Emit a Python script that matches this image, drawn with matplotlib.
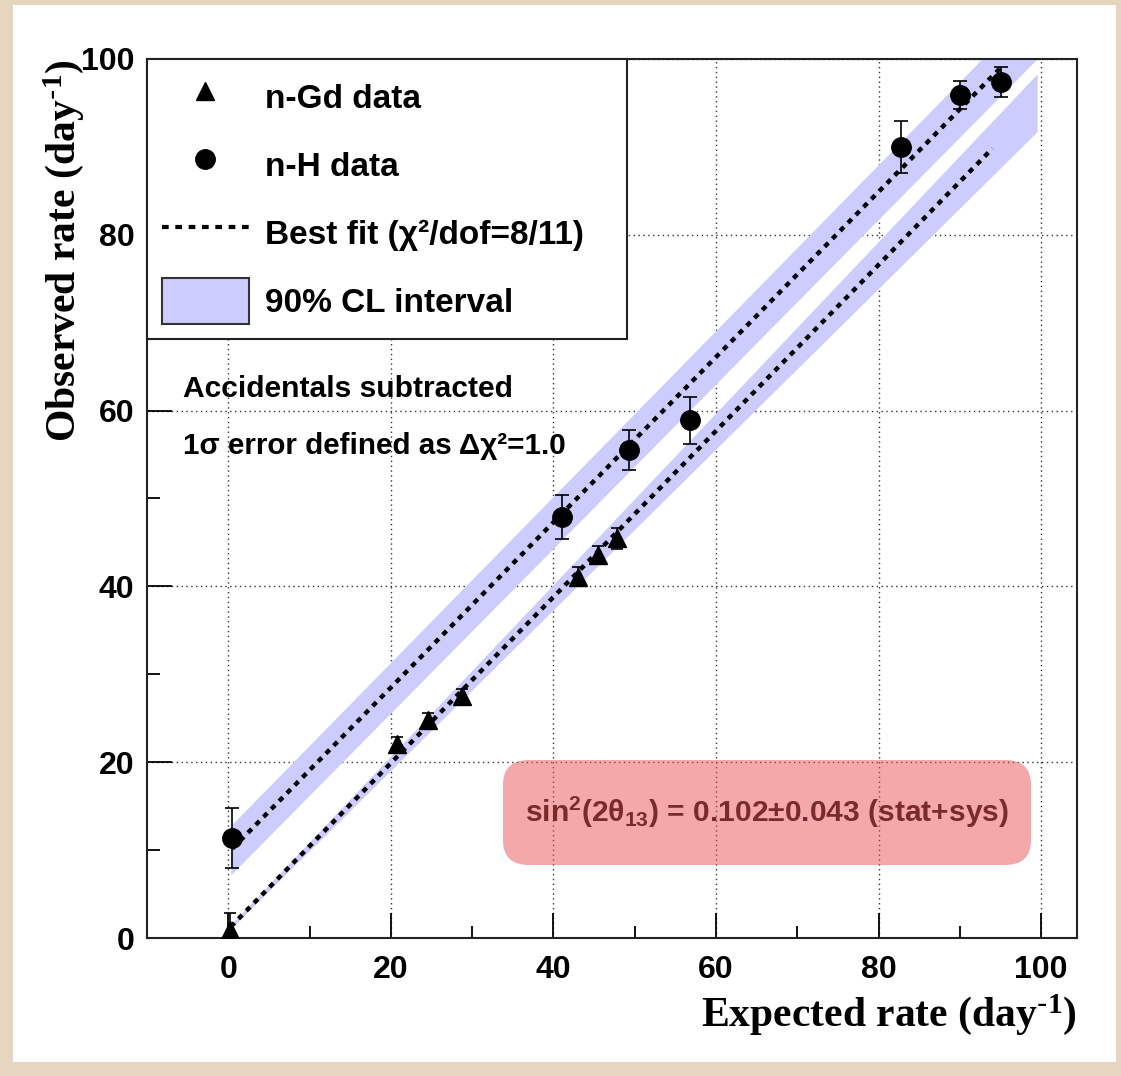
import matplotlib
matplotlib.use("Agg")
import matplotlib.pyplot as plt
from matplotlib.lines import Line2D
from matplotlib.patches import Patch, Rectangle, FancyBboxPatch
import numpy as np

# ---------------- data ----------------
gd_expected = [0.2, 20.7, 24.6, 28.7, 43.0, 45.5, 47.8]
gd_observed = [0.9, 22.1, 24.8, 27.5, 41.1, 43.6, 45.5]
gd_err = [2.0, 0.8, 0.8, 0.8, 1.1, 1.0, 1.2]

h_expected = [0.4, 41.0, 49.3, 56.8, 82.8, 90.0, 95.0]
h_observed = [11.4, 47.9, 55.5, 58.9, 90.0, 95.9, 97.4]
h_err = [3.4, 2.5, 2.3, 2.7, 3.0, 1.6, 1.7]

# best-fit lines: observed = slope * expected + offset
gd_fit_slope, gd_fit_offset = 0.945, 1.0
h_fit_slope, h_fit_offset = 0.94, 9.7
gd_fit_range = [0.3, 94.0]
h_fit_range = [0.5, 95.0]

# 90% CL bands: half width = const + frac * expected
gd_band_const, gd_band_frac = 0.2, 0.031
h_band_const, h_band_frac = 2.8, 0.004
gd_band_range = [0.3, 99.5]
h_band_range = [0.3, 104.0]

x_ticks = [0, 20, 40, 60, 80, 100]
y_ticks = [0, 20, 40, 60, 80, 100]

# ---------------- figure ----------------
W, H = 1121, 1076
fig = plt.figure(figsize=(W / 100, H / 100), dpi=100)
fig.patch.set_facecolor("#e6d6bf")
fig.patches.append(Rectangle((13 / W, 1 - 1062 / H), (1116 - 13) / W, (1062 - 5) / H,
                             transform=fig.transFigure, facecolor="white",
                             edgecolor="none", zorder=-10))

ax = fig.add_axes([147 / W, 1 - 938 / H, (1077 - 147) / W, (938 - 59) / H])
ax.set_zorder(1)
ax.set_xlim(-10, 104.4)
ax.set_ylim(0, 100)

band_color = "#ccccff"

def band(slope, offset, c, f, xr):
    x = np.linspace(xr[0], xr[1], 200)
    y = slope * x + offset
    hw = c + f * x
    ax.fill_between(x, y - hw, y + hw, color=band_color, lw=0, zorder=1)

band(h_fit_slope, h_fit_offset, h_band_const, h_band_frac, h_band_range)
band(gd_fit_slope, gd_fit_offset, gd_band_const, gd_band_frac, gd_band_range)

fit_ls = (0, (1.2, 1.3))
for s, o, xr in [(h_fit_slope, h_fit_offset, h_fit_range),
                 (gd_fit_slope, gd_fit_offset, gd_fit_range)]:
    xs = np.array(xr)
    ax.plot(xs, s * xs + o, color="black", lw=3.2, ls=fit_ls, zorder=2)

ax.errorbar(gd_expected, gd_observed, yerr=gd_err, fmt="^", color="black",
            ms=13, capsize=4, elinewidth=1.2, capthick=1.2, zorder=3, clip_on=True)
ax.errorbar(h_expected, h_observed, yerr=h_err, fmt="o", color="black",
            ms=14, capsize=5, elinewidth=1.2, capthick=1.2, zorder=3)

# grid
ax.set_axisbelow(True)
ax.set_xticks(x_ticks)
ax.set_yticks(y_ticks)
ax.set_xticks(np.arange(-10, 105, 10), minor=True)
ax.set_yticks(np.arange(0, 101, 10), minor=True)
ax.grid(True, which="major", color="#333333", lw=1.0, ls=(0, (1, 2.5)))
ax.tick_params(which="major", direction="in", length=18, width=1.3,
               top=False, right=False, pad=12, labelsize=23)
ax.tick_params(axis="y", which="major", pad=9)
ax.tick_params(which="minor", direction="in", length=9, width=1.3,
               top=False, right=False)
for lab in ax.get_xticklabels() + ax.get_yticklabels():
    lab.set_fontfamily("Liberation Sans")
    lab.set_fontweight("bold")
for sp in ax.spines.values():
    sp.set_linewidth(1.5)
    sp.set_color("#222222")

sup = "$\\mathregular{^{\\text{-}1}}$"
ax.set_xlabel("Expected rate (day" + sup + ")", loc="right",
              fontfamily="Liberation Serif", fontweight="bold", fontsize=30)
ax.xaxis.set_label_coords(1.0, -0.062)
ax.set_ylabel("Observed rate (day" + sup + ")", loc="top",
              fontfamily="Liberation Serif", fontweight="bold", fontsize=30)
ax.yaxis.set_label_coords(-0.066, 1.0)

# annotations
ax.text(0.039, 0.625, "Accidentals subtracted", transform=ax.transAxes,
        fontfamily="Liberation Sans", fontweight="bold", fontsize=21.6,
        va="center", ha="left", zorder=4)
ax.text(0.039, 0.560, "1σ error defined as Δχ²=1.0", transform=ax.transAxes,
        fontfamily="Liberation Sans", fontweight="bold", fontsize=21.3,
        va="center", ha="left", zorder=4)

x0, x1 = (503 - 147) / 930, (1031 - 147) / 930
y0, y1 = (938 - 865) / 879, (938 - 760) / 879
box = FancyBboxPatch((x0, y0), x1 - x0, y1 - y0,
                     boxstyle="round,pad=0,rounding_size=0.028",
                     transform=ax.transAxes, facecolor=(0.91, 0.33, 0.33, 0.5),
                     edgecolor="none", zorder=4)
ax.add_patch(box)
ax.text((x0 + x1) / 2, (y0 + y1) / 2,
        "sin$\\mathregular{^2}$(2θ$\\mathregular{_{13}}$) = 0.102±0.043 (stat+sys)",
        transform=ax.transAxes, color="#7a2a2a", fontfamily="Liberation Sans",
        fontweight="bold", fontsize=21.6, ha="center", va="center", zorder=5)

# legend
handles = [
    Line2D([], [], marker="^", color="black", ls="none", ms=13),
    Line2D([], [], marker="o", color="black", ls="none", ms=14),
    Line2D([], [], color="black", lw=3, ls=(0, (1.6, 1.6))),
    Patch(facecolor=band_color, edgecolor="#333333", lw=1.5),
]
labels = ["n-Gd data", "n-H data", "Best fit (χ²/dof=8/11)", "90% CL interval"]
leg = ax.legend(handles, labels, loc="upper left",
                bbox_to_anchor=(0, 0, 480 / 930, 1.0), mode="expand",
                borderaxespad=0, borderpad=0.45, handlelength=2.6,
                handleheight=1.75, handletextpad=0.5, labelspacing=0.66,
                fancybox=False, framealpha=1, edgecolor="#222222",
                prop={"family": "Liberation Sans", "weight": "bold", "size": 24})
leg.get_frame().set_linewidth(1.5)
leg.set_zorder(6)

fig.savefig("out.png", dpi=100, facecolor=fig.get_facecolor())
